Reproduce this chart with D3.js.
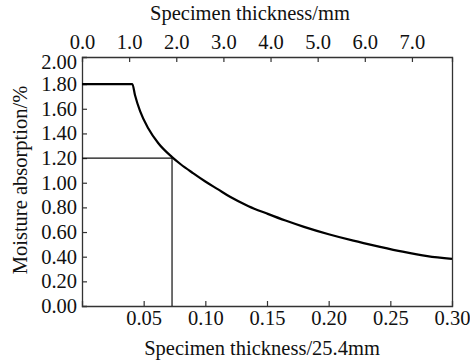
<!DOCTYPE html>
<html>
<head>
<meta charset="utf-8">
<script src="https://cdn.jsdelivr.net/npm/d3@7"></script>
<style>
  body { margin: 0; background: #fff; }
  text { font-family: 'Liberation Serif', 'Times New Roman', serif; fill: #111; }
</style>
</head>
<body>
<div id="chart"></div>
<script>
//
// Moisture absorption vs specimen thickness
//
const thicknessIn = [0.0, 0.0408, 0.0430, 0.0471, 0.0538, 0.0619, 0.0728, 0.080, 0.090, 0.100, 0.110, 0.120, 0.135, 0.150, 0.165, 0.180, 0.200, 0.220, 0.240, 0.260, 0.280, 0.300]
const absorption = [1.80, 1.80, 1.71, 1.58, 1.44, 1.32, 1.21, 1.15, 1.078, 1.01, 0.948, 0.886, 0.810, 0.750, 0.693, 0.642, 0.582, 0.530, 0.484, 0.441, 0.405, 0.382]
const refPoint = { x: 0.073, y: 1.20 }
const bottomTicks = [0.05, 0.10, 0.15, 0.20, 0.25, 0.30]
const topTicks = [0, 1, 2, 3, 4, 5, 6, 7]
const yTicks = [0, 0.2, 0.4, 0.6, 0.8, 1.0, 1.2, 1.4, 1.6, 1.8, 2.0]

const W = 470
const H = 360
const margin = { top: 57, right: 18, bottom: 54, left: 82 }
const width = W - margin.left - margin.right
const height = H - margin.top - margin.bottom
const fs = '20.5px'

const svg = d3.select('#chart').append('svg')
  .attr('width', W).attr('height', H)
const g = svg.append('g')
  .attr('transform', 'translate(' + margin.left + ',' + margin.top + ')')

const x = d3.scaleLinear().domain([0, 0.30]).range([0, width])
const xTop = d3.scaleLinear().domain([0, 7.85]).range([0, width])
const y = d3.scaleLinear().domain([0, 2.02]).range([height, 0])

// axes with inward ticks
const bottomAxis = g.append('g').attr('transform', 'translate(0,' + height + ')')
  .call(d3.axisBottom(x).tickValues(bottomTicks).tickSize(-5).tickPadding(4).tickFormat(d3.format('.2f')))
const topAxis = g.append('g')
  .call(d3.axisTop(xTop).tickValues(topTicks).tickSize(-5).tickPadding(8.5).tickFormat(d3.format('.1f')))
const leftAxis = g.append('g')
  .call(d3.axisLeft(y).tickValues(yTicks).tickSize(-5).tickPadding(5).tickFormat(d3.format('.2f')))
const rightAxis = g.append('g').attr('transform', 'translate(' + width + ',0)')
  .call(d3.axisRight(y).tickValues([]).tickSize(0))

;[bottomAxis, topAxis, leftAxis, rightAxis].forEach(function (a) {
  a.select('.domain').attr('stroke', '#333').attr('stroke-width', 1.3)
  a.selectAll('.tick line').attr('stroke', '#333').attr('stroke-width', 1.2)
  a.selectAll('.tick text').style('font-size', fs).attr('fill', '#111')
})
// no tick marks at the corners
topAxis.selectAll('.tick').filter(function (d) { return d === 0 }).select('line').remove()
bottomAxis.selectAll('.tick').filter(function (d) { return d === 0.30 }).select('line').remove()
leftAxis.selectAll('.tick').filter(function (d) { return d === 0 || d === 2.0 }).select('line').remove()
leftAxis.selectAll('.tick').filter(function (d) { return d === 2.0 }).select('text').attr('dy', '0.46em')

// reference lines
g.append('path')
  .attr('d', 'M' + x(0) + ',' + y(refPoint.y) + 'H' + x(refPoint.x) + 'V' + y(0))
  .attr('fill', 'none').attr('stroke', '#111').attr('stroke-width', 1.2)

// curve
const line = d3.line()
  .x(function (d, i) { return x(thicknessIn[i]) })
  .y(function (d) { return y(d) })
  .curve(d3.curveMonotoneX)
g.append('path')
  .datum(absorption)
  .attr('d', line)
  .attr('fill', 'none').attr('stroke', '#000').attr('stroke-width', 2.2)

// titles
svg.append('text').attr('x', 262).attr('y', 355)
  .attr('text-anchor', 'middle').style('font-size', fs)
  .text('Specimen thickness/25.4mm')
svg.append('text').attr('x', 250).attr('y', 20)
  .attr('text-anchor', 'middle').style('font-size', fs)
  .text('Specimen thickness/mm')
svg.append('text')
  .attr('transform', 'translate(27,180) rotate(-90)')
  .attr('text-anchor', 'middle').style('font-size', fs)
  .text('Moisture absorption/%')
</script>
</body>
</html>
